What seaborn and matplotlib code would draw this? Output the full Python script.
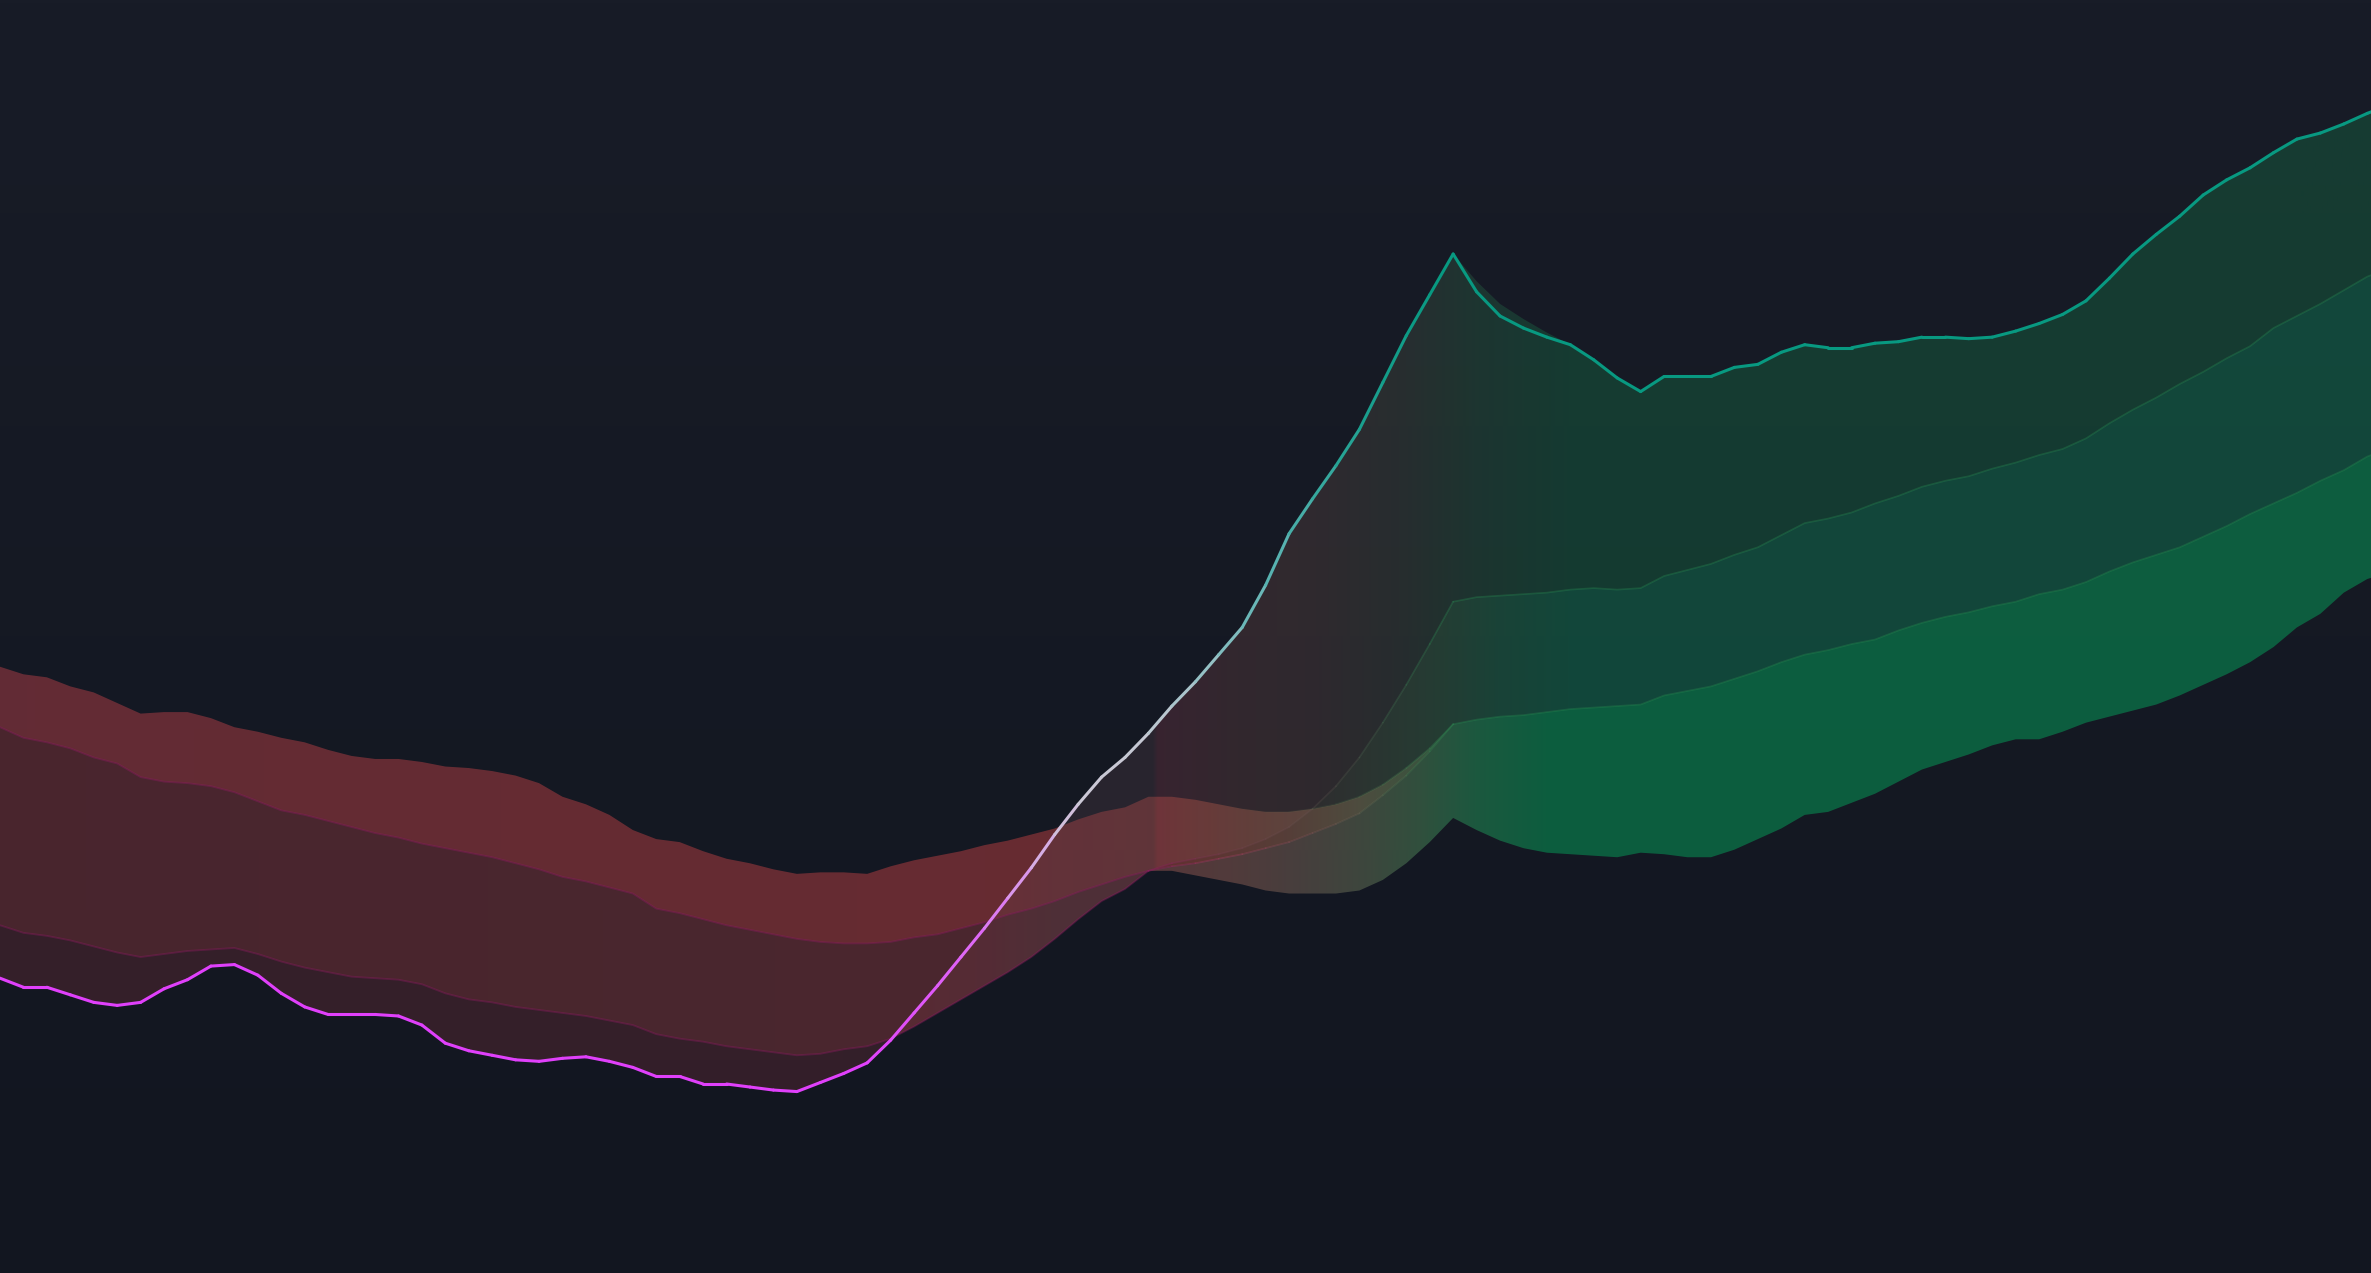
import numpy as np
import matplotlib
matplotlib.use("Agg")
import matplotlib.pyplot as plt
from matplotlib.collections import LineCollection
from matplotlib.patches import PathPatch
import seaborn as sns

sns.set_theme(style="dark")

# bar index (one bar every ~15.5 px of the reference)
bars = np.arange(103)

# close price
price = np.array([
    195, 189, 189, 184, 179, 177, 179, 188, 194, 203,
    204, 197, 185, 176, 171, 171, 171, 170, 164, 152,
    147, 144, 141, 140, 142, 143, 140, 136, 130, 130,
    125, 125, 123, 121, 120, 126, 132, 139, 154, 172,
    190, 209, 228, 248, 268, 290, 310, 328, 341, 357,
    375, 391, 409, 427, 455, 489, 512, 534, 558, 589,
    620, 647, 674, 649, 633, 625, 619, 614, 604, 592,
    583, 593, 593, 593, 599, 601, 609, 614, 612, 612,
    615, 616, 619, 619, 618, 619, 623, 628, 634, 643,
    658, 674, 687, 699, 713, 723, 731, 741, 750, 754,
    760, 767, 773])
# bar highs just after the peak, bars 62..67
high_after_peak = [674, 656, 641, 631, 622, 614]

# bearish bands, bars 0..49
fast_bear = [230, 225, 223, 220, 216, 212, 209, 211, 213, 214,
             215, 211, 206, 202, 199, 196, 195, 194, 191, 185,
             181, 179, 176, 174, 172, 170, 167, 164, 158, 155,
             153, 150, 148, 146, 144, 145, 148, 150, 155, 163,
             172, 181, 190, 199, 209, 221, 234, 246, 254, 266]
mid_bear = [361, 354, 351, 347, 341, 337, 328, 325, 324, 322,
            318, 312, 306, 303, 299, 295, 291, 288, 284, 281,
            278, 275, 271, 267, 262, 259, 255, 251, 241, 238,
            234, 230, 227, 224, 221, 219, 218, 218, 219, 222,
            224, 228, 232, 237, 241, 246, 252, 257, 262, 266]
slow_bear = [401, 396, 394, 388, 384, 377, 370, 371, 371, 367,
             361, 358, 354, 351, 346, 342, 340, 340, 338, 335,
             334, 332, 329, 324, 315, 310, 303, 293, 287, 285,
             279, 274, 271, 267, 264, 265, 265, 264, 269, 273,
             276, 279, 283, 286, 290, 294, 300, 305, 308, 315]

# bullish bands, bars 50..102
fast_bull = [271, 274, 277, 281, 287, 295, 307, 322, 341, 364,
             389, 416, 444, 447, 448, 449, 450, 452, 453, 452,
             453, 461, 465, 469, 475, 480, 488, 496, 499, 503,
             509, 514, 520, 524, 527, 532, 536, 541, 545, 552,
             562, 571, 579, 588, 596, 605, 613, 625, 633, 641,
             650, 659, 665]
mid_bull = [269, 271, 274, 277, 281, 285, 291, 297, 304, 316,
            329, 345, 363, 366, 368, 369, 371, 373, 374, 375,
            376, 382, 385, 388, 393, 398, 404, 409, 412, 416,
            419, 425, 430, 434, 437, 441, 444, 449, 452, 457,
            464, 470, 475, 480, 487, 494, 502, 509, 516, 524,
            531, 540, 546]
# slow band fading out, bars 50..61
slow_fade = [315, 313, 310, 307, 305, 305, 307, 310, 315, 323, 334, 347]
# outer bullish band, bars 49..102
floor_bull = [266, 266, 263, 260, 257, 253, 251, 251, 251, 253,
              260, 271, 285, 301, 293, 286, 281, 278, 277, 276,
              275, 278, 277, 275, 275, 280, 287, 294, 303, 305,
              311, 317, 325, 333, 338, 343, 349, 353, 353, 358,
              364, 368, 372, 376, 382, 389, 396, 404, 414, 427,
              436, 450, 459, 464]

fast = np.array(fast_bear + fast_bull, float)
mid = np.array(mid_bear + mid_bull, float)
slow = np.array(slow_bear + slow_fade + mid_bull[12:], float)
floor = np.concatenate([np.full(49, np.nan), floor_bull]).astype(float)
fill_top = price.astype(float).copy()
fill_top[62:68] = np.maximum(fill_top[62:68], high_after_peak)

YMAX = 842
XMAX = 1568 / 15.5
BG = np.array([20, 24, 34]) / 255


def interp_colors(stops, cols):
    sb = [s[0] for s in stops]
    vals = np.array([s[1] for s in stops], float)
    vals[:, :3] = vals[:, :3] / 255
    out = np.zeros((len(cols), vals.shape[1]))
    for k in range(vals.shape[1]):
        out[:, k] = np.interp(cols, sb, vals[:, k])
    return out


def band(ax, lo, hi, i0, i1, stops, alpha, z):
    xs = bars[i0:i1 + 1]
    poly = ax.fill_between(xs, lo[i0:i1 + 1], hi[i0:i1 + 1], color="none", lw=0)
    patch = PathPatch(poly.get_paths()[0], transform=ax.transData, fc="none", ec="none")
    ax.add_patch(patch)
    cols = np.linspace(xs[0], xs[-1], 2400)
    target = interp_colors(stops, cols)
    img = np.zeros((1, len(cols), 4))
    # colour that gives the wanted tone once laid over the background
    img[0, :, :3] = np.clip(BG + (target - BG) / alpha, 0, 1)
    img[0, :, 3] = alpha
    im = ax.imshow(img, extent=[xs[0], xs[-1], 0, YMAX], aspect="auto",
                   origin="lower", interpolation="bilinear", zorder=z)
    im.set_clip_path(patch)


def gradient_line(ax, x, y, stops, lw, z):
    pts = np.column_stack([x, y])
    segs = np.stack([pts[:-1], pts[1:]], axis=1)
    cols = interp_colors(stops, (x[:-1] + x[1:]) / 2)
    lc = LineCollection(segs, colors=cols, linewidths=lw, zorder=z,
                        capstyle="round", joinstyle="round")
    ax.add_collection(lc)


fig = plt.figure(figsize=(23.71, 12.73), dpi=100)
fig.patch.set_facecolor("#151923")
ax = fig.add_axes([0, 0, 1, 1])
ax.set_axis_off()

# background gradient
bg = np.linspace([24 / 255, 28 / 255, 39 / 255], [18 / 255, 22 / 255, 32 / 255], 400).reshape(400, 1, 3)
ax.imshow(bg, extent=[0, XMAX, 0, YMAX], aspect="auto", origin="upper", zorder=0)

# band fills
band(ax, fast, mid, 0, 49, [(0, (74, 38, 46)), (49, (76, 40, 48))], 0.45, 2)
band(ax, mid, slow, 0, 62,
     [(0, (100, 44, 53)), (45, (104, 44, 50)), (49, (100, 48, 50)), (51, (96, 53, 50)),
      (55, (86, 63, 57)), (58, (78, 77, 63)), (60.5, (60, 84, 63)), (62, (40, 90, 63))], 0.45, 2)
band(ax, fast, slow, 56, 102,
     [(56, (47, 45, 47)), (58, (44, 52, 49)), (61, (38, 60, 51)), (64, (25, 67, 55)),
      (67, (18, 71, 58)), (102, (18, 71, 58))], 0.45, 2)
band(ax, mid, floor, 49, 102,
     [(49, (88, 56, 58)), (52.6, (82, 60, 60)), (55.5, (72, 64, 62)), (58.3, (62, 72, 62)),
      (60.5, (50, 80, 62)), (63, (28, 89, 63)), (66, (13, 94, 63)), (102, (13, 94, 63))], 0.45, 2)
band(ax, fill_top, fast, 0, 102,
     [(0, (53, 32, 42)), (36, (53, 32, 42)), (42, (47, 34, 45)), (45, (41, 37, 47)),
      (49.2, (41, 37, 47)), (49.4, (56, 36, 48)), (53, (50, 40, 46)), (56, (47, 41, 46)),
      (60, (38, 45, 46)), (63, (28, 52, 47)), (67, (20, 58, 48)), (102, (20, 58, 48))], 0.3, 3)

# band lines
bear_line = (0.55, 0.10, 0.38)
bull_line = (0.16, 0.55, 0.32)
for series in (fast, mid):
    sns.lineplot(x=bars[:50], y=series[:50], color=bear_line, alpha=0.4, lw=1.3, ax=ax, zorder=4)
    sns.lineplot(x=bars[62:], y=series[62:], color=bull_line, alpha=0.35, lw=1.2, ax=ax, zorder=4)
gradient_line(ax, bars[49:63].astype(float), fast[49:63],
              [(49, (140, 26, 97, 0.4)), (53, (120, 70, 85, 0.25)), (57, (100, 95, 85, 0.25)),
               (61, (50, 135, 85, 0.33)), (62, (41, 140, 82, 0.35))], 1.2, 4)
gradient_line(ax, bars[49:63].astype(float), mid[49:63],
              [(49, (140, 26, 97, 0.4)), (52, (175, 60, 100, 0.38)), (56, (140, 90, 90, 0.3)),
               (60, (80, 125, 85, 0.3)), (62, (41, 140, 82, 0.35))], 1.2, 4)
gradient_line(ax, bars[52:63].astype(float), slow[52:63],
              [(52, (90, 110, 80, 0.0)), (56, (90, 120, 80, 0.12)), (60, (70, 135, 85, 0.3)),
               (62, (41, 140, 82, 0.35))], 1.2, 4)

# price line
gradient_line(ax, bars.astype(float), price,
              [(0, (224, 64, 251, 1)), (37, (224, 64, 251, 1)), (42, (222, 110, 245, 1)),
               (44, (215, 165, 232, 1)), (46, (205, 200, 215, 1)), (49, (195, 200, 210, 1)),
               (51, (160, 195, 200, 1)), (54, (95, 180, 180, 1)), (58, (30, 160, 145, 1)),
               (61, (8, 153, 129, 1)), (102, (8, 153, 129, 1))], 2.2, 6)

ax.set_xlim(0, XMAX)
ax.set_ylim(0, YMAX)
fig.savefig("out.png", dpi=100, facecolor=fig.get_facecolor())
